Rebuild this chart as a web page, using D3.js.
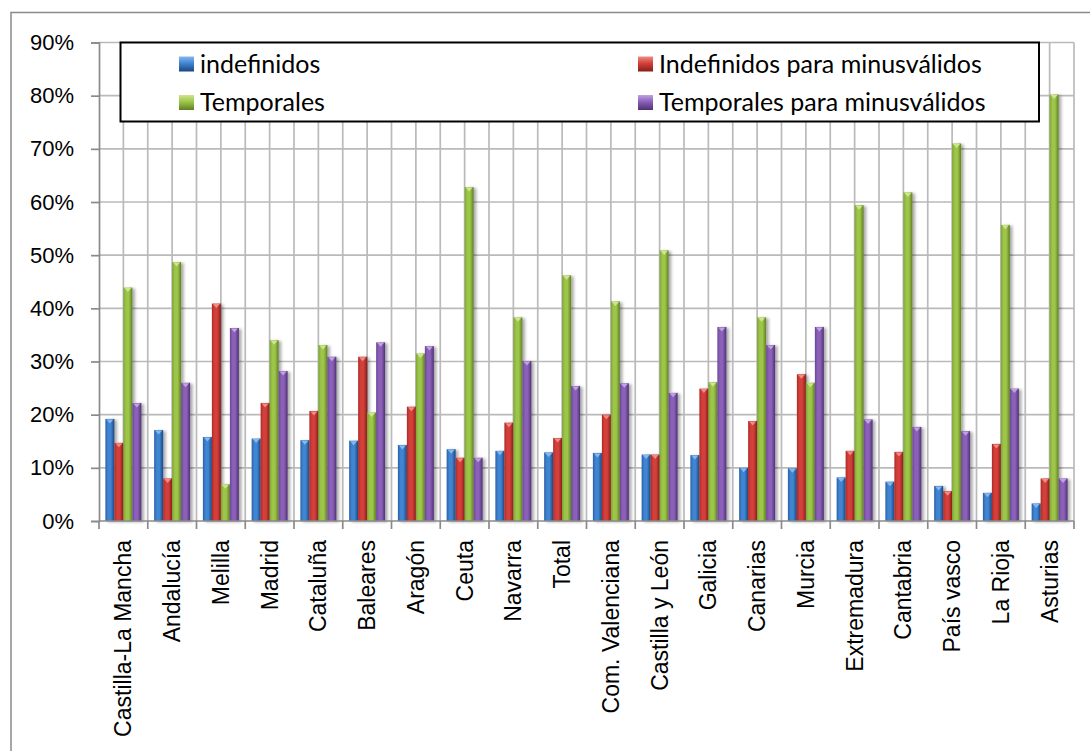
<!DOCTYPE html>
<html>
<head>
<meta charset="utf-8">
<script src="https://cdn.jsdelivr.net/npm/d3@7"></script>
<style>
  html, body { margin: 0; padding: 0; background: #fff; }
  svg { display: block; }
</style>
</head>
<body>
<svg id="chart" width="1090" height="751"></svg>
<script>
// Share of contracts by region (percent)
const categories = ["Castilla-La Mancha", "Andalucía", "Melilla", "Madrid", "Cataluña", "Baleares", "Aragón", "Ceuta", "Navarra", "Total", "Com. Valenciana", "Castilla y León", "Galicia", "Canarias", "Murcia", "Extremadura", "Cantabria", "País vasco", "La Rioja", "Asturias"];

const seriesNames = ["indefinidos", "Indefinidos para minusválidos", "Temporales", "Temporales para minusválidos"];

const indefinidos = [19.2, 17.1, 15.8, 15.5, 15.2, 15.1, 14.3, 13.5, 13.2, 12.9, 12.8, 12.5, 12.4, 10.0, 9.9, 8.2, 7.4, 6.6, 5.3, 3.3];
const indefinidosMinusvalidos = [14.7, 8.0, 40.9, 22.2, 20.7, 30.9, 21.5, 11.9, 18.5, 15.6, 20.0, 12.5, 24.9, 18.8, 27.6, 13.2, 13.0, 5.6, 14.5, 8.0];
const temporales = [43.9, 48.7, 6.9, 34.0, 33.1, 20.4, 31.5, 62.8, 38.3, 46.2, 41.3, 50.9, 26.1, 38.3, 26.0, 59.4, 61.8, 71.0, 55.7, 80.2];
const temporalesMinusvalidos = [22.2, 26.0, 36.3, 28.2, 30.9, 33.6, 32.9, 11.9, 30.1, 25.4, 25.9, 24.1, 36.5, 33.1, 36.5, 19.1, 17.7, 16.9, 24.9, 8.0];

const yTicks = [0, 10, 20, 30, 40, 50, 60, 70, 80, 90];

const seriesValues = [indefinidos, indefinidosMinusvalidos, temporales, temporalesMinusvalidos];

// colour ramps for the bevelled bars: [edge, light, dark, cap]
const palette = [
  ["#2a60a4", "#3f85d2", "#1d4680", "#86b8ef"],
  ["#ad2a26", "#d3403a", "#8a1d1a", "#f08a84"],
  ["#7ea337", "#9dc64a", "#5f7f24", "#cde58e"],
  ["#6c4795", "#8b60b8", "#4f3273", "#bfa2e0"]
];

const svg = d3.select("#chart");
const W = 1090, H = 751;
const plot = { left: 99, right: 1074, top: 42.5, bottom: 521 };

svg.append("rect").attr("width", W).attr("height", H).attr("fill", "#fff");

// outer chart frame
svg.append("rect")
  .attr("x", 11).attr("y", 12.5)
  .attr("width", W + 20).attr("height", H + 20)
  .attr("fill", "none").attr("stroke", "#8a8a8a").attr("stroke-width", 1.5);

const defs = svg.append("defs");
palette.forEach((p, i) => {
  const g = defs.append("linearGradient").attr("id", "bar" + i)
    .attr("x1", "0%").attr("x2", "100%").attr("y1", "0%").attr("y2", "0%");
  g.append("stop").attr("offset", "0%").attr("stop-color", p[0]);
  g.append("stop").attr("offset", "30%").attr("stop-color", p[1]);
  g.append("stop").attr("offset", "60%").attr("stop-color", p[1]);
  g.append("stop").attr("offset", "100%").attr("stop-color", p[2]);

  const lg = defs.append("linearGradient").attr("id", "key" + i)
    .attr("x1", "0%").attr("x2", "0%").attr("y1", "0%").attr("y2", "100%");
  lg.append("stop").attr("offset", "0%").attr("stop-color", p[3]);
  lg.append("stop").attr("offset", "45%").attr("stop-color", p[1]);
  lg.append("stop").attr("offset", "100%").attr("stop-color", p[2]);
});
const shadow = defs.append("filter").attr("id", "shadow")
  .attr("x", "-50%").attr("y", "-10%").attr("width", "200%").attr("height", "120%");
shadow.append("feDropShadow").attr("dx", 2.5).attr("dy", 1).attr("stdDeviation", 1.6)
  .attr("flood-color", "#000").attr("flood-opacity", 0.35);

const x0 = d3.scaleBand().domain(categories).range([plot.left, plot.right]).padding(0);
const x1 = d3.scaleBand().domain(d3.range(seriesNames.length))
  .range([x0.bandwidth() * 0.131, x0.bandwidth() * 0.869]).padding(0);
const y = d3.scaleLinear().domain([0, 90]).range([plot.bottom, plot.top]);

// gridlines: horizontal at each major tick, vertical every half category
const grid = svg.append("g").attr("stroke", "#bababa").attr("stroke-width", 1.7);
grid.selectAll("line.h").data(yTicks.filter(d => d > 0)).join("line")
  .attr("x1", plot.left).attr("x2", plot.right)
  .attr("y1", d => y(d)).attr("y2", d => y(d));
const halfSteps = d3.range(1, categories.length * 2 + 1).map(i => plot.left + i * x0.step() / 2);
grid.selectAll("line.v").data(halfSteps).join("line")
  .attr("x1", d => d).attr("x2", d => d)
  .attr("y1", plot.top).attr("y2", plot.bottom);

// bars
const groups = svg.append("g").selectAll("g").data(categories).join("g")
  .attr("transform", c => `translate(${x0(c)},0)`);

const barData = (c, ci) => seriesValues.map((vals, si) => ({ si, v: vals[ci] }));

groups.each(function (c, ci) {
  const g = d3.select(this).append("g").attr("filter", "url(#shadow)");
  const bars = g.selectAll("g").data(barData(c, ci)).join("g");
  bars.append("rect")
    .attr("x", d => x1(d.si))
    .attr("width", x1.bandwidth())
    .attr("y", d => y(d.v))
    .attr("height", d => y(0) - y(d.v))
    .attr("fill", d => `url(#bar${d.si})`);
  // bevel cap on top of each bar
  bars.append("path")
    .attr("d", d => {
      const xa = x1(d.si) + 1, xb = x1(d.si) + x1.bandwidth() - 1, yt = y(d.v) + 0.5;
      const xm = (xa + xb) / 2;
      return `M${xa},${yt}L${xb},${yt}L${xm},${yt + 4}Z`;
    })
    .attr("fill", d => palette[d.si][3]);
});

// y axis
const yAxis = d3.axisLeft(y).tickValues(yTicks).tickFormat(d => d + "%").tickSize(8).tickPadding(17);
const ya = svg.append("g").attr("transform", `translate(${plot.left},0)`).call(yAxis);
ya.select(".domain").attr("stroke", "#8a8a8a").attr("stroke-width", 1.7);
ya.selectAll(".tick line").attr("stroke", "#8a8a8a").attr("stroke-width", 1.7);
ya.selectAll(".tick text")
  .attr("font-family", "'Liberation Sans', Arial, sans-serif")
  .attr("font-size", 22).attr("fill", "#000");

// x axis: baseline, boundary ticks, rotated labels
const xa = svg.append("g");
xa.append("line").attr("x1", plot.left).attr("x2", plot.right)
  .attr("y1", y(0)).attr("y2", y(0))
  .attr("stroke", "#8a8a8a").attr("stroke-width", 1.7);
const bounds = d3.range(0, categories.length + 1).map(i => plot.left + i * x0.step());
xa.selectAll("line.t").data(bounds).join("line")
  .attr("x1", d => d).attr("x2", d => d)
  .attr("y1", y(0)).attr("y2", y(0) + 8)
  .attr("stroke", "#8a8a8a").attr("stroke-width", 1.7);
xa.selectAll("text").data(categories).join("text")
  .attr("transform", c => `translate(${x0(c) + x0.bandwidth() / 2},${y(0) + 19}) rotate(-90)`)
  .attr("dy", "0.35em")
  .attr("text-anchor", "end")
  .attr("font-family", "'Liberation Sans', Arial, sans-serif")
  .attr("font-size", 23)
  .attr("fill", "#000")
  .text(c => c);

// legend
const legend = svg.append("g");
legend.append("rect")
  .attr("x", 120.5).attr("y", 42.5).attr("width", 918.5).attr("height", 79)
  .attr("fill", "#fff").attr("stroke", "#000").attr("stroke-width", 2);
const legendPos = [[179, 64], [638, 64], [179, 102.5], [638, 102.5]];
const items = legend.selectAll("g.item").data(seriesNames).join("g")
  .attr("transform", (d, i) => `translate(${legendPos[i][0]},${legendPos[i][1]})`);
items.append("rect")
  .attr("x", 0).attr("y", -7.5).attr("width", 15).attr("height", 15)
  .attr("fill", (d, i) => `url(#key${i})`);
items.append("text")
  .attr("x", 21).attr("y", 0).attr("dy", "0.35em")
  .attr("font-family", "Lato, 'Open Sans', sans-serif")
  .attr("font-size", 25)
  .attr("fill", "#000")
  .text(d => d);
</script>
</body>
</html>
